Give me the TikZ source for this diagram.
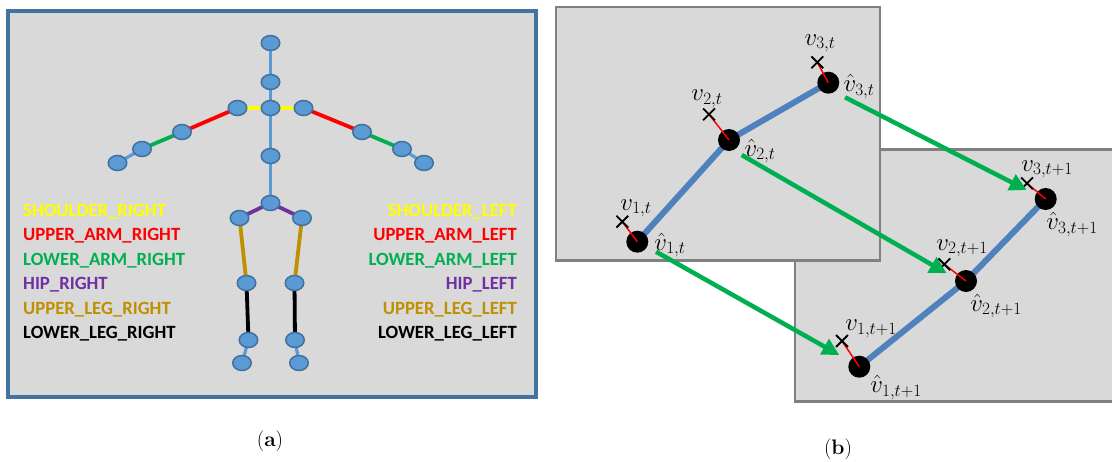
\documentclass[tikz,border=0pt]{standalone}
\usepackage{fontspec}
\newfontfamily\calibri{Carlito}
\usetikzlibrary{shapes.geometric,shapes.misc,arrows.meta}
\definecolor{framea}{RGB}{68,114,160}
\definecolor{bggray}{RGB}{217,217,217}
\definecolor{boxgray}{RGB}{128,128,128}
\definecolor{jointfill}{RGB}{91,155,213}
\definecolor{jointborder}{RGB}{65,113,156}
\definecolor{bonegreen}{RGB}{0,176,80}
\definecolor{bonepurple}{RGB}{112,48,160}
\definecolor{bonegold}{RGB}{191,144,0}
\definecolor{boneyellow}{RGB}{255,255,0}
\definecolor{linkblue}{RGB}{79,129,189}
\pgfdeclarelayer{bg}
\pgfsetlayers{bg,main}
\tikzset{
  joint/.style={ellipse, draw=jointborder, fill=jointfill, line width=1.5pt, minimum width=18.5pt, minimum height=15pt, inner sep=0pt},
  bone/.style={line width=3.8pt},
  thinbone/.style={line width=3.2pt, draw=jointfill},
  lbl/.style={font=\calibri\bfseries\fontsize{18.7}{22}\selectfont, inner sep=0pt},
  blob/.style={circle, fill=black, minimum size=22pt, inner sep=0pt},
  xmark/.style={cross out, draw=black, line width=1.8pt, minimum size=10pt, inner sep=0pt},
  mlbl/.style={font=\fontsize{23}{27}\selectfont, inner sep=0pt},
  move/.style={draw=bonegreen, line width=4.5pt, -{Triangle[length=17pt,width=17pt]}},
  errline/.style={draw=red, line width=1.5pt},
  chain/.style={draw=linkblue, line width=6pt},
  capt/.style={font=\fontsize{21}{25}\selectfont, inner sep=0pt},
}
\begin{document}
\begin{tikzpicture}[x=1pt,y=-1pt]
\useasboundingbox (0,0) rectangle (1112,461);

% ---------------- panel (a)
\begin{pgfonlayer}{bg}
\draw[draw=framea, line width=4pt, fill=bggray] (8,11) rectangle (536,397);
\end{pgfonlayer}

\node[joint] (head) at (270.5,43) {};
\node[joint] (neck) at (270.5,82) {};
\node[joint] (shc) at (270.5,108) {};
\node[joint] (shR) at (237.5,108) {};
\node[joint] (shL) at (303.5,108) {};
\node[joint] (elR) at (182,132) {};
\node[joint] (elL) at (362,132) {};
\node[joint] (wrR) at (142,149) {};
\node[joint] (wrL) at (402,149) {};
\node[joint] (hdR) at (117.5,163) {};
\node[joint] (hdL) at (424,163) {};
\node[joint] (spine) at (270.5,156) {};
\node[joint] (hipc) at (270.5,203) {};
\node[joint] (hipR) at (239.5,218) {};
\node[joint] (hipL) at (302,218) {};
\node[joint] (knR) at (246.5,283) {};
\node[joint] (knL) at (294.5,283) {};
\node[joint] (anR) at (248.5,340) {};
\node[joint] (anL) at (295,340) {};
\node[joint] (ftR) at (242,363) {};
\node[joint] (ftL) at (299,363) {};

\begin{pgfonlayer}{bg}
\draw[thinbone] (head.center) -- (neck.center);
\draw[thinbone] (neck.center) -- (shc.center);
\draw[thinbone] (shc.center) -- (spine.center);
\draw[thinbone] (spine.center) -- (hipc.center);
\draw[bone, boneyellow] (shc.center) -- (shR.center);
\draw[bone, boneyellow] (shc.center) -- (shL.center);
\draw[bone, red] (shR.center) -- (elR.center);
\draw[bone, red] (shL.center) -- (elL.center);
\draw[bone, bonegreen] (elR.center) -- (wrR.center);
\draw[bone, bonegreen] (elL.center) -- (wrL.center);
\draw[thinbone] (wrR.center) -- (hdR.center);
\draw[thinbone] (wrL.center) -- (hdL.center);
\draw[bone, bonepurple] (hipc.center) -- (hipR.center);
\draw[bone, bonepurple] (hipc.center) -- (hipL.center);
\draw[bone, bonegold] (hipR.center) -- (knR.center);
\draw[bone, bonegold] (hipL.center) -- (knL.center);
\draw[bone, black] (knR.center) -- (anR.center);
\draw[bone, black] (knL.center) -- (anL.center);
\draw[thinbone] (anR.center) -- (ftR.center);
\draw[thinbone] (anL.center) -- (ftL.center);
\end{pgfonlayer}

\node[lbl, boneyellow, anchor=base west] (lr1) at (23,216) {SHOULDER\_RIGHT};
\node[lbl, red, anchor=base west] (lr2) at (23,240.5) {UPPER\_ARM\_RIGHT};
\node[lbl, bonegreen, anchor=base west] (lr3) at (23,265) {LOWER\_ARM\_RIGHT};
\node[lbl, bonepurple, anchor=base west] (lr4) at (23,289.5) {HIP\_RIGHT};
\node[lbl, bonegold, anchor=base west] (lr5) at (23,314) {UPPER\_LEG\_RIGHT};
\node[lbl, black, anchor=base west] (lr6) at (23,338.5) {LOWER\_LEG\_RIGHT};

\node[lbl, boneyellow, anchor=base east] (ll1) at (517,216) {SHOULDER\_LEFT};
\node[lbl, red, anchor=base east] (ll2) at (517,240.5) {UPPER\_ARM\_LEFT};
\node[lbl, bonegreen, anchor=base east] (ll3) at (517,265) {LOWER\_ARM\_LEFT};
\node[lbl, bonepurple, anchor=base east] (ll4) at (517,289.5) {HIP\_LEFT};
\node[lbl, bonegold, anchor=base east] (ll5) at (517,314) {UPPER\_LEG\_LEFT};
\node[lbl, black, anchor=base east] (ll6) at (517,338.5) {LOWER\_LEG\_LEFT};

\node[capt] (capa) at (270,441) {(\textbf{a})};

% ---------------- panel (b)
\begin{pgfonlayer}{bg}
\draw[draw=boxgray, line width=2.5pt, fill=bggray] (795.2,149.5) rectangle (1116,401.5);
\draw[draw=boxgray, line width=2.5pt, fill=bggray] (556.2,7.2) rectangle (879.8,260.5);
\end{pgfonlayer}

\node[blob] (d1) at (637.3,241.7) {};
\node[blob] (d2) at (729,140) {};
\node[blob] (d3) at (828.3,82.7) {};
\node[blob] (e1) at (859.3,366.7) {};
\node[blob] (e2) at (966,281) {};
\node[blob] (e3) at (1045.7,199) {};

\begin{pgfonlayer}{bg}
\draw[chain] (d1.center) -- (d2.center) -- (d3.center);
\draw[chain] (e1.center) -- (e2.center) -- (e3.center);
\end{pgfonlayer}

\coordinate (x1) at (622.3,221.7);
\coordinate (x2) at (709,114.3);
\coordinate (x3) at (817.3,62.3);
\coordinate (y1) at (842,341);
\coordinate (y2) at (944.3,264.3);
\coordinate (y3) at (1027,183.3);

\draw[errline] (x1) -- (d1.center);
\draw[errline] (x2) -- (d2.center);
\draw[errline] (x3) -- (d3.center);
\draw[errline] (y1) -- (e1.center);
\draw[errline] (y2) -- (e2.center);
\draw[errline] (y3) -- (e3.center);

\node[xmark] (mx1) at (x1) {};
\node[xmark] (mx2) at (x2) {};
\node[xmark] (mx3) at (x3) {};
\node[xmark] (my1) at (y1) {};
\node[xmark] (my2) at (y2) {};
\node[xmark] (my3) at (y3) {};

\node[mlbl] (lv1) at (636,208.3) {$v_{1,t}$};
\node[mlbl] (lh1) at (670,245) {$\hat{v}_{1,t}$};
\node[mlbl] (lv2) at (707,99) {$v_{2,t}$};
\node[mlbl] (lh2) at (760,151) {$\hat{v}_{2,t}$};
\node[mlbl] (lv3) at (820,43.3) {$v_{3,t}$};
\node[mlbl] (lh3) at (859,86.5) {$\hat{v}_{3,t}$};
\node[mlbl] (mv1) at (871,329) {$v_{1,t+1}$};
\node[mlbl] (mh1) at (896,387.5) {$\hat{v}_{1,t+1}$};
\node[mlbl] (mv2) at (962,248.3) {$v_{2,t+1}$};
\node[mlbl] (mh2) at (996,306) {$\hat{v}_{2,t+1}$};
\node[mlbl] (mv3) at (1047,169.3) {$v_{3,t+1}$};
\node[mlbl] (mh3) at (1072,224.5) {$\hat{v}_{3,t+1}$};

\coordinate (s1) at (656,251.7);
\coordinate (t1) at (839.3,355);
\coordinate (s2) at (741.7,155);
\coordinate (t2) at (946.7,273.3);
\coordinate (s3) at (845,97.3);
\coordinate (t3) at (1026.7,190);
\draw[move] (s1) -- (t1);
\draw[move] (s2) -- (t2);
\draw[move] (s3) -- (t3);

\node[capt] (capb) at (838,449) {(\textbf{b})};
\end{tikzpicture}
\end{document}
